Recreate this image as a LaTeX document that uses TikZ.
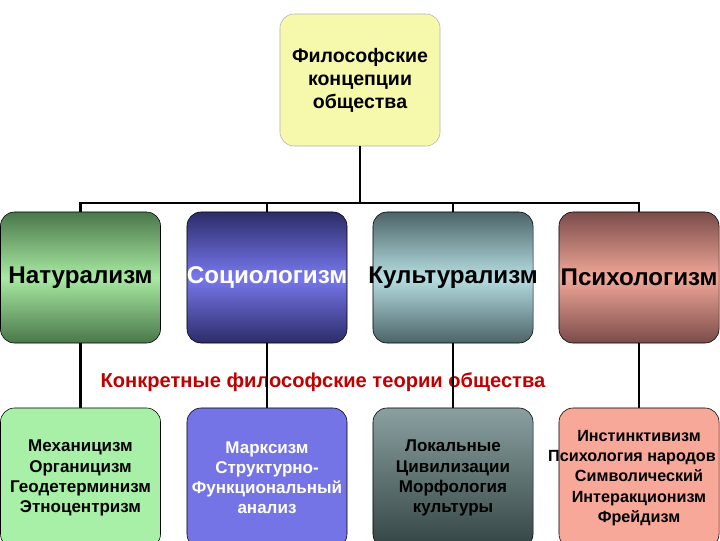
\documentclass[tikz,border=0pt]{standalone}
\usepackage{fontspec}
\setmainfont{Liberation Sans}
\definecolor{headfill}{HTML}{F6F8AC}
\definecolor{natdark}{HTML}{4A774A}
\definecolor{natlight}{HTML}{A8EAA2}
\definecolor{socdark}{HTML}{2C2C6A}
\definecolor{soclight}{HTML}{7878EE}
\definecolor{culdark}{HTML}{4C6468}
\definecolor{cullight}{HTML}{B6DEE2}
\definecolor{psydark}{HTML}{7A4C4A}
\definecolor{psylight}{HTML}{F2A898}
\definecolor{natflat}{HTML}{A8F0A8}
\definecolor{socflat}{HTML}{7474E6}
\definecolor{psyflat}{HTML}{F8A898}
\definecolor{cultop}{HTML}{8AA0A0}
\definecolor{culbot}{HTML}{344444}
\definecolor{theoryred}{HTML}{C00000}
\tikzset{
  head/.style={draw=gray!60, fill=headfill, rounded corners=10pt,
    minimum width=4cm, minimum height=3.3cm, align=center,
    font=\bfseries\fontsize{13.9}{16.4}\selectfont},
  school/.style={draw=black, rounded corners=10pt, minimum width=4cm,
    minimum height=3.275cm, inner sep=0pt, font=\bfseries\fontsize{17.2}{20}\selectfont},
  theory/.style={draw=black, rounded corners=10pt, minimum width=4cm,
    minimum height=3.5cm, inner sep=0pt, align=center,
    font=\bfseries\fontsize{12.1}{14.3}\selectfont},
  link/.style={line width=1.6pt}
}
\begin{document}
\begin{tikzpicture}[x=0.025cm,y=-0.025cm]
  \useasboundingbox (0,0) rectangle (720,540);
  \clip (0,0) rectangle (720,540);

  \node[head] (top) at (360,80) {Философские\\концепции\\общества};

  \node[school,top color=natdark,bottom color=natdark,middle color=natlight] (nat) at (80.5,277.5) {Натурализм};
  \node[school,top color=socdark,bottom color=socdark,middle color=soclight,text=white] (soc) at (267,277.5) {\makebox[0pt]{Социологизм}};
  \node[school,top color=culdark,bottom color=culdark,middle color=cullight] (cul) at (453,277.5) {\makebox[0pt]{Культурализм}};
  \node[school,top color=psydark,bottom color=psydark,middle color=psylight] (psy) at (639,277.5) {Психологизм};

  \node[theory,fill=natflat] (mech) at (80.5,478) {Механицизм\\Органицизм\\Геодетерминизм\\Этноцентризм};
  \node[theory,fill=socflat,text=white] (marx) at (267,478) {Марксизм\\Структурно-\\Функциональный\\анализ};
  \node[theory,top color=cultop,bottom color=culbot] (loc) at (453,478) {Локальные\\Цивилизации\\Морфология\\культуры};
  \node[theory,fill=psyflat,font=\bfseries\fontsize{11.5}{14.3}\selectfont] (inst) at (639,478)
    {Инстинктивизм\\\makebox[0pt]{\hspace*{-10pt}Психология народов}\\Символический\\Интеракционизм\\Фрейдизм};

  \node[text=theoryred,font=\bfseries\fontsize{14.3}{17}\selectfont] (conc) at (323,382) {Конкретные философские теории общества};

  \coordinate (bus) at (360,203);
  \draw[link] (top.south) -- (bus);
  \foreach \n in {nat,soc,cul,psy}
    \draw[link] (\n.north) |- (bus);
  \draw[link] (nat.south) -- (mech.north);
  \draw[link] (soc.south) -- (marx.north);
  \draw[link] (cul.south) -- (loc.north);
  \draw[link] (psy.south) -- (inst.north);
\end{tikzpicture}
\end{document}
